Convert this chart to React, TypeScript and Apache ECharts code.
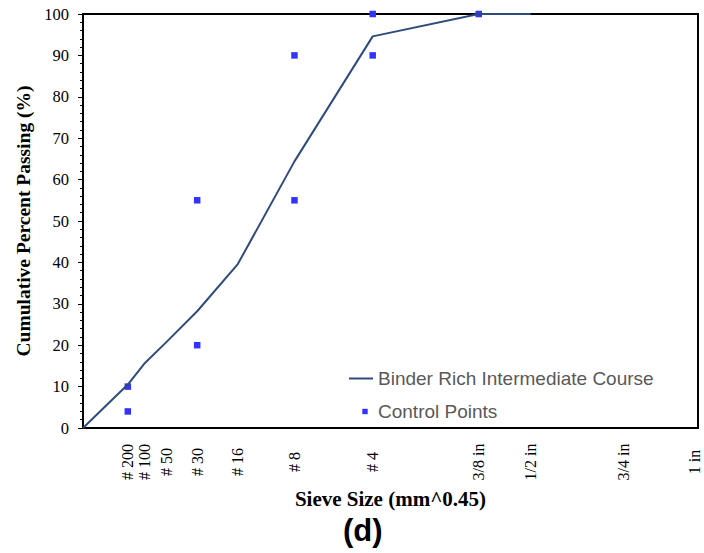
import React, { useEffect, useRef } from "react";
import * as echarts from "echarts";

// Sieve designations and their openings (mm)
const sieveNames = ["# 200", "# 100", "# 50", "# 30", "# 16", "# 8", "# 4", "3/8 in", "1/2 in", "3/4 in", "1 in"];
const sieveSizesMm = [0.075, 0.15, 0.3, 0.6, 1.18, 2.36, 4.75, 9.5, 12.5, 19, 25];

// Gradation: Binder Rich Intermediate Course
const gradationSizesMm = [0, 0.075, 0.15, 0.3, 0.6, 1.18, 2.36, 4.75, 9.5, 12.5];
const gradationPassing = [0, 10.5, 15.5, 20.8, 28.2, 39.6, 64.4, 94.6, 100, 100];

// Control points
const controlSizesMm = [0.075, 0.075, 0.6, 0.6, 2.36, 2.36, 4.75, 4.75, 9.5];
const controlPassing = [4, 10, 20, 55, 55, 90, 90, 100, 100];

const yTicks = [0, 10, 20, 30, 40, 50, 60, 70, 80, 90, 100];

const pow045 = (d: number) => Math.pow(d, 0.45);

export default function App() {
  const ref = useRef<HTMLDivElement>(null);
  useEffect(() => {
    if (!ref.current) return;
    const chart = echarts.init(ref.current, undefined, { renderer: "svg" });
    const sieveX = sieveSizesMm.map(pow045);
    const labelFor = (v: number) => {
      for (let i = 0; i < sieveX.length; i++) {
        if (Math.abs(sieveX[i] - v) < 1e-6) return sieveNames[i];
      }
      return "";
    };
    const serif = "'Liberation Serif', 'Times New Roman', serif";
    const sans = "'Liberation Sans', Arial, sans-serif";
    chart.setOption({
      animation: false,
      backgroundColor: "#ffffff",
      grid: {
        left: 83,
        top: 14,
        right: 6,
        bottom: 125,
        show: true,
        borderColor: "#000000",
        borderWidth: 2,
        containLabel: false,
      },
      xAxis: {
        type: "value",
        min: 0,
        max: 4.28,
        name: "Sieve Size (mm^0.45)",
        nameLocation: "middle",
        nameGap: 58,
        nameTextStyle: { fontFamily: serif, fontWeight: "bold", fontSize: 21, color: "#000" },
        axisLine: { show: true, onZero: false, lineStyle: { color: "#000", width: 2 } },
        axisTick: { show: false },
        splitLine: { show: false },
        axisLabel: {
          customValues: sieveX,
          formatter: (v: number) => labelFor(v),
          rotate: 90,
          align: "center",
          verticalAlign: "middle",
          margin: 34,
          showMinLabel: true,
          showMaxLabel: true,
          hideOverlap: false,
          fontFamily: serif,
          fontSize: 16,
          color: "#000",
        },
      },
      yAxis: {
        type: "value",
        min: 0,
        max: 100,
        interval: 10,
        name: "Cumulative Percent Passing (%)",
        nameLocation: "middle",
        nameGap: 44,
        nameTextStyle: { fontFamily: serif, fontWeight: "bold", fontSize: 19.5, color: "#000" },
        axisLine: { show: true, lineStyle: { color: "#000", width: 2 } },
        axisTick: { show: true, length: 5, lineStyle: { color: "#000" } },
        minorTick: { show: true, splitNumber: 5, length: 3, lineStyle: { color: "#000" } },
        splitLine: { show: false },
        axisLabel: {
          margin: 14,
          fontFamily: serif,
          fontSize: 16.5,
          color: "#000",
          formatter: (v: number) => (yTicks.includes(v) ? String(v) : ""),
        },
      },
      legend: {
        orient: "vertical",
        left: 344,
        top: 364,
        itemWidth: 24,
        itemHeight: 14,
        itemGap: 14,
        textStyle: { fontFamily: sans, fontSize: 19, color: "#595959" },
        data: [
          { name: "Binder Rich Intermediate Course", icon: "path://M0,0M24,14M0,6h24v2h-24z" },
          { name: "Control Points", icon: "path://M0,0M24,14M13.3,4.3h5.4v5.4h-5.4z" },
        ],
      },
      series: [
        {
          name: "Binder Rich Intermediate Course",
          type: "line",
          data: gradationSizesMm.map((d, i) => [pow045(d), gradationPassing[i]]),
          showSymbol: false,
          symbol: "none",
          clip: false,
          lineStyle: { color: "#2f4b7c", width: 2 },
          itemStyle: { color: "#2f4b7c" },
        },
        {
          name: "Control Points",
          type: "scatter",
          data: controlSizesMm.map((d, i) => [pow045(d), controlPassing[i]]),
          symbol: "rect",
          symbolSize: 6.5,
          clip: false,
          itemStyle: { color: "#3333ff", opacity: 1 },
        },
      ],
      graphic: [
        {
          type: "text",
          left: 343,
          top: 515,
          style: {
            text: "(d)",
            fontFamily: sans,
            fontWeight: "bold",
            fontSize: 31,
            fill: "#000",
          },
        },
      ],
    });
    return () => chart.dispose();
  }, []);
  return <div ref={ref} style={{ width: 704, height: 553, position: "absolute", left: 0, top: 0 }} />;
}
